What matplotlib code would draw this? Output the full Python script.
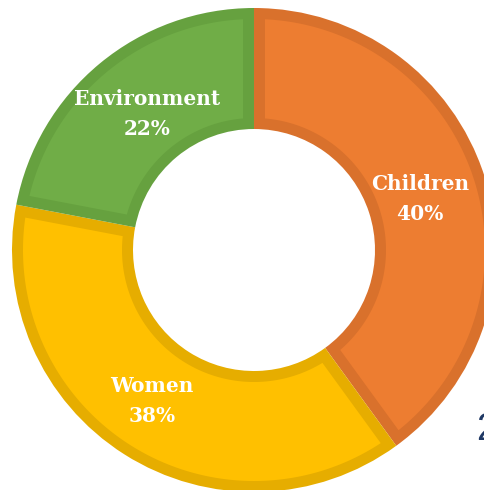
import numpy as np
import matplotlib
matplotlib.use('Agg')
import matplotlib.pyplot as plt
from matplotlib.patches import Polygon

# donut data
labels = ['Children', 'Women', 'Environment']
shares = [40, 38, 22]
fills = ['#ED7D31', '#FFC000', '#70AD47']
borders = ['#D9712C', '#E6AD00', '#66A13F']
# label anchor (x centre, baseline of first line), pixels from top-left
label_pos = [(420, 190), (152, 392), (147, 105)]

W, H = 484, 490
fig = plt.figure(figsize=(W / 100, H / 100), dpi=100)
ax = fig.add_axes([0, 0, 1, 1])

cx, cy, r = 254, H - 250, 242
border_w = 11

# full slices in the darker border colour
wedges, _ = ax.pie(shares, colors=borders, startangle=90, counterclock=False,
                   radius=r, center=(cx, cy), frame=True,
                   wedgeprops=dict(width=r * 0.5, linewidth=0))
ax.set_xlim(0, W)
ax.set_ylim(0, H)
ax.set_aspect('equal')
ax.set_axis_off()


def inset_slice(w, b):
    # slice shrunk by a constant b on every side
    ro = w.r - b
    ri = w.r - w.width + b
    t1, t2 = np.radians(w.theta1), np.radians(w.theta2)
    a_o = np.linspace(t1 + np.arcsin(b / ro), t2 - np.arcsin(b / ro), 200)
    a_i = np.linspace(t2 - np.arcsin(b / ri), t1 + np.arcsin(b / ri), 200)
    xs = np.concatenate([ro * np.cos(a_o), ri * np.cos(a_i)]) + w.center[0]
    ys = np.concatenate([ro * np.sin(a_o), ri * np.sin(a_i)]) + w.center[1]
    return np.column_stack([xs, ys])


for w, fc in zip(wedges, fills):
    ax.add_patch(Polygon(inset_slice(w, border_w), closed=True,
                         facecolor=fc, edgecolor='none'))

for name, pct, (x, y) in zip(labels, shares, label_pos):
    ax.text(x, H - y, name, ha='center', va='baseline', color='white',
            fontsize=14.5, fontweight='bold', family='DejaVu Serif')
    ax.text(x, H - y - 30, f'{pct}%', ha='center', va='baseline', color='white',
            fontsize=14.5, fontweight='bold', family='DejaVu Serif')

# stray label cut off at the right edge
ax.text(476, H - 440, '2', ha='left', va='baseline', color='#1F3864',
        fontsize=27, family='Liberation Sans')

fig.savefig('out.png', dpi=100)
